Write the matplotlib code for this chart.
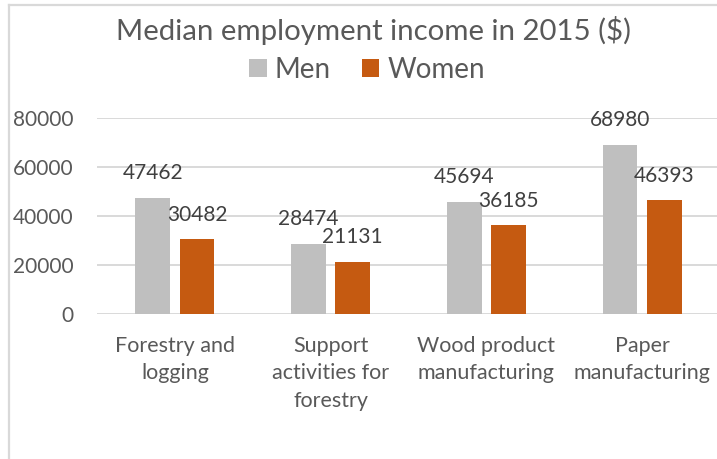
import matplotlib
matplotlib.use("Agg")
import matplotlib.pyplot as plt
from matplotlib.patches import Patch
from matplotlib.lines import Line2D
import numpy as np

plt.rcParams['font.family'] = ['Lato', 'DejaVu Sans']

categories = ["Forestry and\nlogging", "Support\nactivities for\nforestry",
              "Wood product\nmanufacturing", "Paper\nmanufacturing"]
men = [47462, 28474, 45694, 68980]
women = [30482, 21131, 36185, 46393]
y_ticks = [0, 20000, 40000, 60000, 80000]

MEN_C = "#BFBFBF"
WOMEN_C = "#C55A11"
TEXT_C = "#595959"
LABEL_C = "#404040"
GRID_C = "#D9D9D9"

W, H = 717, 459
fig = plt.figure(figsize=(W / 100, H / 100), dpi=100)
ax = fig.add_axes([97 / W, (H - 314) / H, (720 - 97) / W, (314 - 118) / H])

x = np.arange(len(categories))
bw = 0.222
off = 0.142
b1 = ax.bar(x - off, men, width=bw, color=MEN_C, zorder=3)
b2 = ax.bar(x + off, women, width=bw, color=WOMEN_C, zorder=3)

for bars, vals in ((b1, men), (b2, women)):
    for rect, v in zip(bars, vals):
        ax.annotate(f"{v}", (rect.get_x() + rect.get_width() / 2, v),
                    xytext=(0, 13.5), textcoords="offset points",
                    ha="center", va="baseline", fontsize=15, color=LABEL_C,
                    zorder=4)

ax.set_xlim(-0.5, 3.5)
ax.set_ylim(0, 80000)
ax.set_yticks(y_ticks)
ax.set_yticklabels([str(t) for t in y_ticks])
ax.set_xticks(x)
ax.set_xticklabels(categories, linespacing=1.45)
ax.tick_params(axis="y", length=0, pad=17, labelsize=15, labelcolor=TEXT_C)
ax.tick_params(axis="x", length=0, pad=16, labelsize=15.5, labelcolor=TEXT_C)
ax.yaxis.grid(True, color=GRID_C, lw=1.4, zorder=0)
for s in ax.spines.values():
    s.set_visible(False)
ax.set_facecolor("none")

fig.text(373 / W, 1 - 40 / H, "Median employment income in 2015 ($)",
         ha="center", va="baseline", fontsize=21.2, color=TEXT_C)

handles = [Patch(facecolor=MEN_C), Patch(facecolor=WOMEN_C)]
leg = fig.legend(handles, ["Men", "Women"], loc="center",
                 bbox_to_anchor=(367 / W, 1 - 70 / H), ncol=2, frameon=False,
                 fontsize=20, handlelength=0.62, handleheight=0.62,
                 handletextpad=0.3, columnspacing=1.1, borderpad=0)
for t in leg.get_texts():
    t.set_color(TEXT_C)

# chart area border (left and top edges)
fig.add_artist(Line2D([9 / W, 9 / W], [0, 1 - 5 / H], transform=fig.transFigure,
                      color=GRID_C, lw=1.6))
fig.add_artist(Line2D([9 / W, 1], [1 - 5 / H, 1 - 5 / H], transform=fig.transFigure,
                      color=GRID_C, lw=1.6))

fig.savefig("out.png", dpi=100, facecolor="white")
